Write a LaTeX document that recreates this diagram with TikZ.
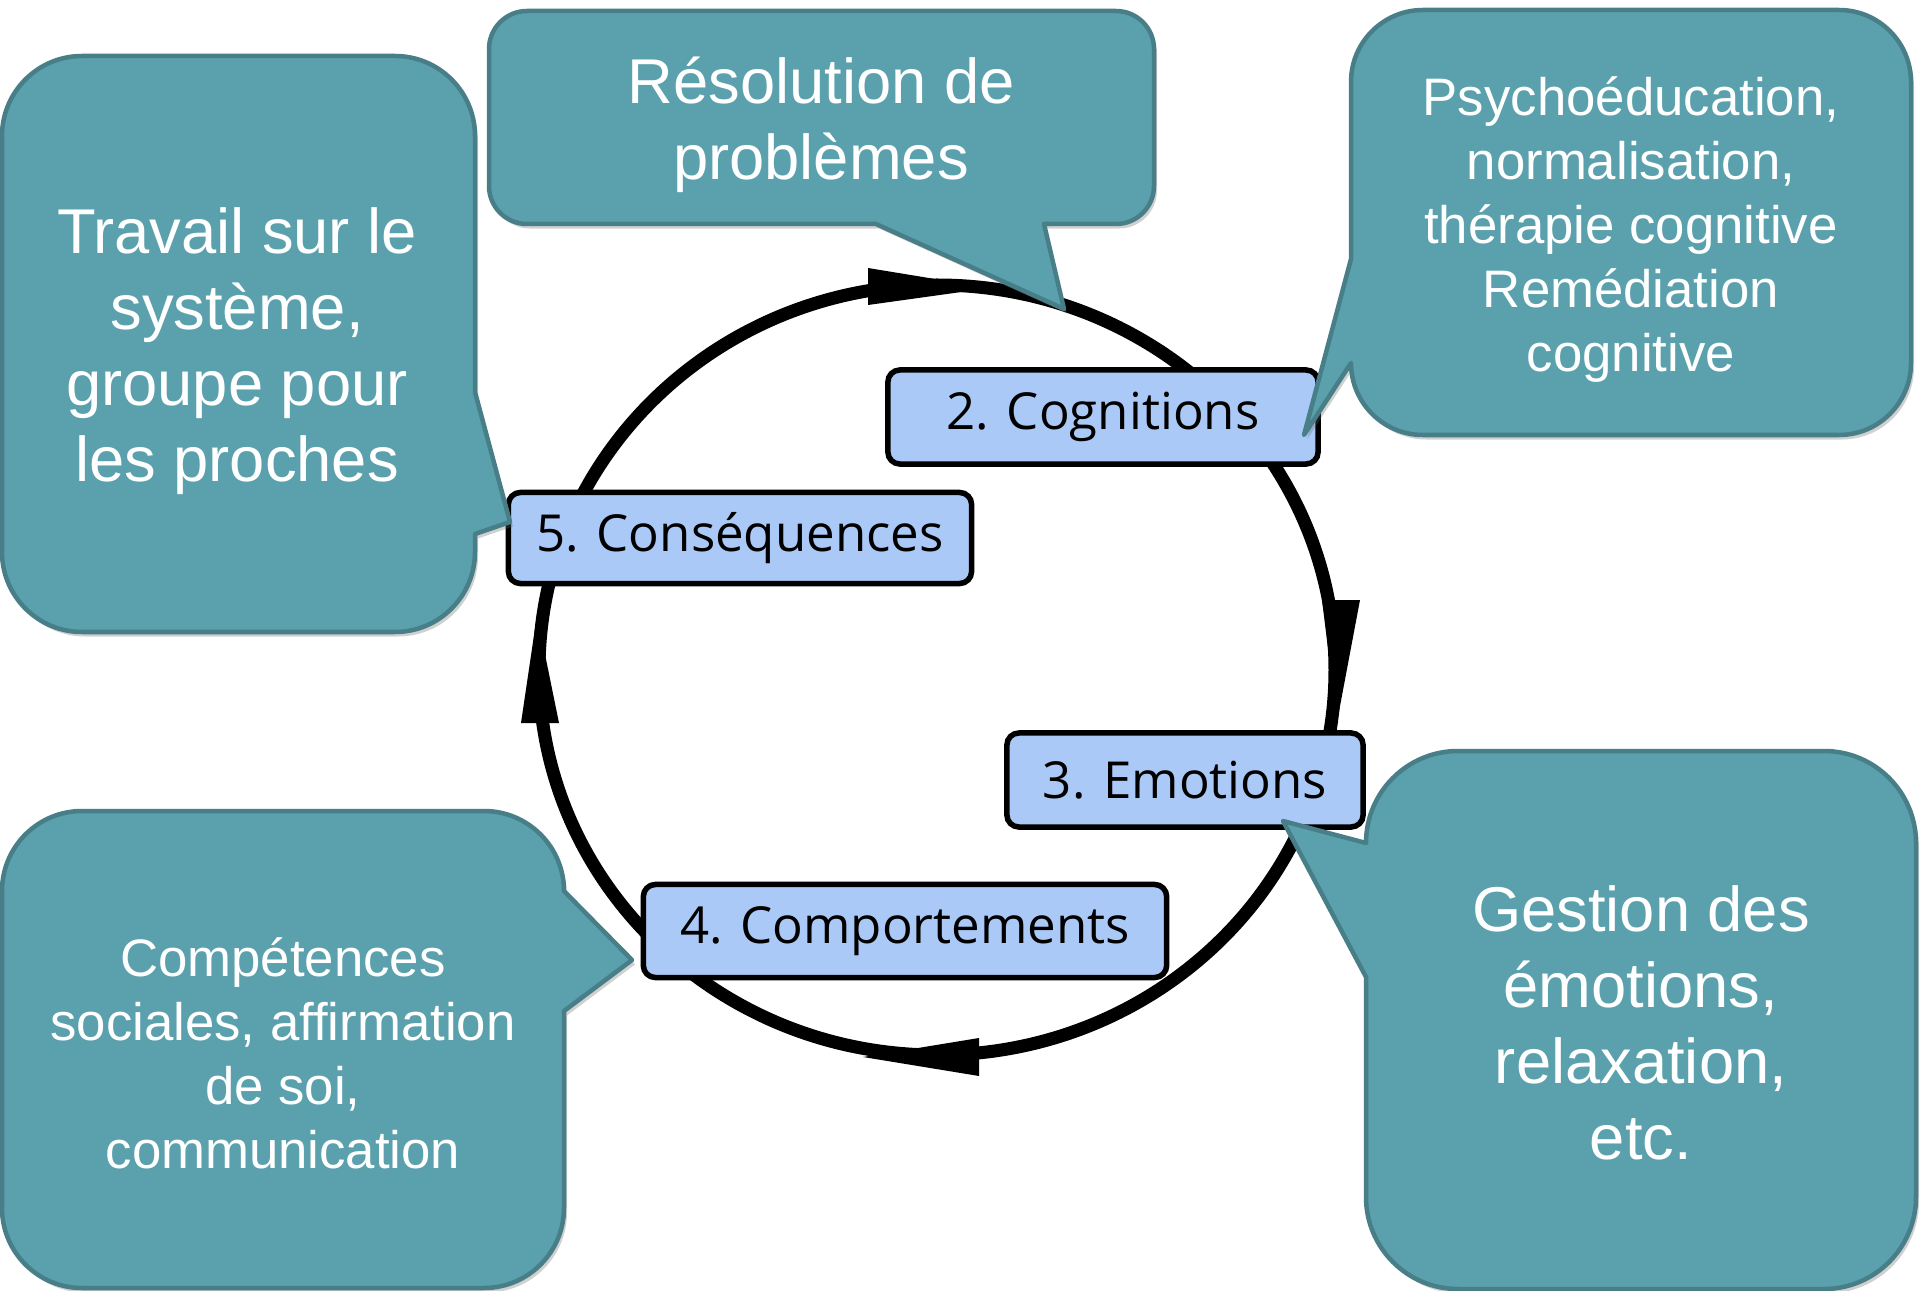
\documentclass[tikz,border=0pt]{standalone}
\usepackage{fontspec}
\setmainfont{Liberation Sans}
\newfontfamily\labelfont{Open Sans}
\usetikzlibrary{shadows}
\definecolor{tealfill}{HTML}{5BA1AD}
\definecolor{tealline}{HTML}{477E88}
\definecolor{lblue}{HTML}{ABC9F6}
\begin{document}
\begin{tikzpicture}[x=0.01cm,y=-0.01cm,
  callout/.style={fill=tealfill, draw=tealline, line width=0.045cm, line join=round,
    drop shadow={shadow xshift=0.03cm, shadow yshift=-0.045cm, opacity=0.3, fill=black!60}},
  calltext/.style={text=white, align=center, inner sep=0pt},
  bigtext/.style={calltext, font=\fontsize{18pt}{21.6pt}\selectfont},
  smalltext/.style={calltext, font=\fontsize{15pt}{18.2pt}\selectfont},
  stage/.style={draw=black, fill=lblue, line width=0.055cm, rounded corners=0.12cm,
    inner sep=0pt, font=\labelfont\fontsize{14.5pt}{17pt}\selectfont},
  cycleline/.style={draw=black, line width=0.13cm},
  cyctip/.style={fill=black}
]
\fill[white] (0,0) rectangle (1920,1291);
\useasboundingbox (0,0) rectangle (1920,1291);

% cycle
\coordinate (cyc) at (937,670);
\draw[cycleline] (cyc) ellipse [x radius=398, y radius=385];
\fill[cyctip] (868,268) -- (868,305) -- (990,288) -- cycle;
\fill[cyctip] (1322,600) -- (1360,600) -- (1337,722) -- cycle;
\fill[cyctip] (979,1038) -- (979,1076) -- (863,1057) -- cycle;
\fill[cyctip] (521,723) -- (559,723) -- (537,615) -- cycle;

% stage boxes
\node[stage, minimum width=4.30cm, minimum height=0.94cm] (cog) at (1103,417) {2. Cognitions};
\node[stage, minimum width=4.63cm, minimum height=0.91cm] (cons) at (740,538) {5. Conséquences};
\node[stage, minimum width=3.56cm, minimum height=0.94cm] (emo) at (1185,780) {3. Emotions};
\node[stage, minimum width=5.23cm, minimum height=0.93cm] (comp) at (905,931) {4. Comportements};

% callout 1 (Travail)
\draw[callout] (82,56) -- (395,56) arc[start angle=270,end angle=360,radius=80]
  -- (475,392) -- (510,522) -- (475,534) -- (475,552)
  arc[start angle=0,end angle=90,radius=80] -- (82,632)
  arc[start angle=90,end angle=180,radius=80] -- (2,136)
  arc[start angle=180,end angle=270,radius=80] -- cycle;
\node[bigtext] (t1) at (237,351) {Travail sur le\\système,\\groupe pour\\les proches};

% callout 2 (Résolution)
\draw[callout] (527,11) -- (1116,11) arc[start angle=270,end angle=360,radius=38]
  -- (1154,186) arc[start angle=0,end angle=90,radius=38]
  -- (1044,224) -- (1064,309) -- (876,224) -- (527,224)
  arc[start angle=90,end angle=180,radius=38] -- (489,49)
  arc[start angle=180,end angle=270,radius=38] -- cycle;
\node[bigtext] (t2) at (821,125) {Résolution de\\problèmes};

% callout 3 (Psycho)
\draw[callout] (1423,10) -- (1839,10) arc[start angle=270,end angle=360,radius=72]
  -- (1911,363) arc[start angle=0,end angle=90,radius=72]
  -- (1423,435) arc[start angle=90,end angle=180,radius=72]
  -- (1304,435) -- (1351,259) -- (1351,82)
  arc[start angle=180,end angle=270,radius=72] -- cycle;
\node[smalltext] (t3) at (1631,230) {Psychoéducation,\\normalisation,\\thérapie cognitive\\Remédiation\\cognitive};

% callout 4 (Gestion)
\draw[callout] (1458,751) -- (1824,751) arc[start angle=270,end angle=360,radius=92]
  -- (1916,1197) arc[start angle=0,end angle=90,radius=92]
  -- (1458,1289) arc[start angle=90,end angle=180,radius=92]
  -- (1366,977) -- (1283,821) -- (1366,843)
  arc[start angle=180,end angle=270,radius=92] -- cycle;
\node[bigtext] (t4) at (1641,1023) {Gestion des\\émotions,\\relaxation,\\etc.};

% callout 5 (Compétences)
\draw[callout] (82,811) -- (484,811) arc[start angle=270,end angle=360,radius=80]
  -- (632,960) -- (564,1011) -- (564,1208)
  arc[start angle=0,end angle=90,radius=80] -- (82,1288)
  arc[start angle=90,end angle=180,radius=80] -- (2,891)
  arc[start angle=180,end angle=270,radius=80] -- cycle;
\node[smalltext] (t5) at (283,1053) {Compétences\\sociales, affirmation\\de soi,\\communication};
\end{tikzpicture}
\end{document}
